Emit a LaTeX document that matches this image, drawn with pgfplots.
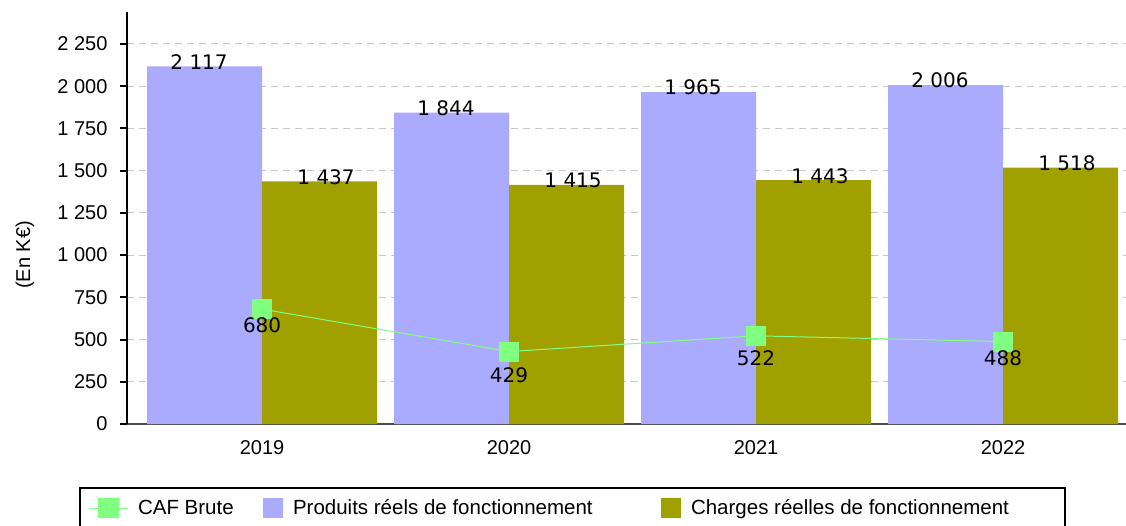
\documentclass[border=0pt]{standalone}
\usepackage{fontspec}
\setmainfont{Liberation Sans}
\newfontfamily\dejavu{DejaVu Sans}
\usepackage{pgfplots}
\usepackage{pgfplotstable}
\pgfplotsset{compat=1.18}
\definecolor{prodblue}{HTML}{AAAAFF}
\definecolor{chargeolive}{HTML}{A0A000}
\definecolor{cafgreen}{HTML}{80FF80}
\definecolor{gridgray}{HTML}{C8C8C8}

% x: year index, off: vertical shift of the CAF label (pt)
\pgfplotstableread{
x prod charge caf off
0 2117 1437 680 -16
1 1844 1415 429 -24
2 1965 1443 522 -22
3 2006 1518 488 -17
}\fin

\begin{document}
\begin{tikzpicture}
\begin{axis}[
  scale only axis, width=999pt, height=412pt,
  xmin=-0.547, xmax=3.498, ymin=0, ymax=2439,
  axis x line*=bottom, axis y line*=left,
  x axis line style={draw=gray!60!black, line width=1.5pt},
  y axis line style={draw=black, line width=2pt},
  clip=false,
  xtick={0,1,2,3}, xticklabels={2019,2020,2021,2022},
  xtick style={draw=none},
  ytick={0,250,...,2250},
  ytick style={draw=black, line width=2pt},
  tick align=outside, major tick length=7pt,
  ymajorgrids, grid style={gridgray, line width=1pt, dash pattern=on 7pt off 5pt},
  scaled y ticks=false,
  /pgf/number format/assume math mode=true,
  /pgf/number format/1000 sep={\ },
  tick label style={font=\fontsize{20}{24}\selectfont},
  yticklabel style={xshift=-9pt},
  xticklabel style={yshift=-6pt},
  ylabel={(En K€)},
  ylabel style={font=\fontsize{20}{24}\selectfont, at={(rel axis cs:-0.1021,0.41)}, anchor=center},
  legend columns=3,
  legend style={at={(rel axis cs:-0.048,-0.153)}, anchor=north west,
    draw=black, line width=2pt, inner xsep=8pt, inner ysep=10pt,
    column sep=0pt, nodes={inner sep=0pt},
    font=\fontsize{20.5}{24}\selectfont},
]
\coordinate (O) at (rel axis cs:0,0);

\addlegendimage{legend image code/.code={
  \draw[cafgreen, line width=1pt] (0pt,0pt) -- (39pt,0pt);
  \fill[cafgreen] (10pt,-9pt) rectangle (29pt,9pt);}}
\addlegendentry{\makebox[135pt][l]{\hspace{10pt}CAF Brute}}
\addlegendimage{legend image code/.code={\fill[prodblue] (0pt,-9pt) rectangle (18pt,9pt);}}
\addlegendentry{\makebox[378pt][l]{\hspace{10pt}Produits réels de fonctionnement}}
\addlegendimage{legend image code/.code={\fill[chargeolive] (0pt,-9pt) rectangle (18pt,9pt);}}
\addlegendentry{\makebox[376pt][l]{\hspace{10pt}Charges réelles de fonctionnement}}

\addplot[ybar, bar width=115pt, bar shift=-57.5pt, fill=prodblue, draw=none, forget plot,
  nodes near coords,
  every node near coord/.append style={anchor=center, xshift=-63pt, yshift=4.5pt, text=black,
    font=\dejavu\fontsize{20}{24}\selectfont}]
  table[x=x, y=prod]{\fin};
\addplot[ybar, bar width=115pt, bar shift=57.5pt, fill=chargeolive, draw=none, forget plot,
  nodes near coords,
  every node near coord/.append style={anchor=center, xshift=64pt, yshift=4.5pt, text=black,
    font=\dejavu\fontsize{20}{24}\selectfont}]
  table[x=x, y=charge]{\fin};
\addplot[cafgreen, line width=1pt, mark=square*, mark size=9.5pt,
  mark options={solid, fill=cafgreen, draw=none}, forget plot,
  visualization depends on={\thisrow{off} \as \off},
  nodes near coords,
  every node near coord/.append style={anchor=center, yshift=\off*1pt, text=black,
    font=\dejavu\fontsize{20}{24}\selectfont}]
  table[x=x, y=caf]{\fin};
\end{axis}
\pgfresetboundingbox
\path[use as bounding box] ([shift={(-127pt,-101pt)}]O) rectangle ([shift={(999pt,424pt)}]O);
\end{tikzpicture}
\end{document}
